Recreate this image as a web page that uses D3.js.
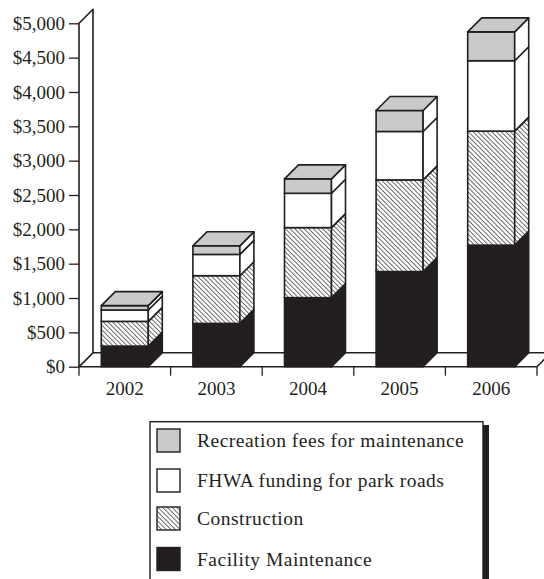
<!DOCTYPE html>
<html><head><meta charset="utf-8">
<script src="https://cdn.jsdelivr.net/npm/d3@7"></script>
<style>body{margin:0;background:#fff} svg{display:block}</style>
</head><body>
<svg id="chart" width="544" height="579"></svg>
<script>
const years = ["2002", "2003", "2004", "2005", "2006"];
const facilityMaintenance = [300, 630, 1005, 1385, 1770];
const construction = [360, 695, 1020, 1335, 1660];
const fhwaFunding = [165, 310, 500, 705, 1025];
const recreationFees = [65, 125, 210, 305, 420];
const yTickValues = [0, 500, 1000, 1500, 2000, 2500, 3000, 3500, 4000, 4500, 5000];
const seriesKeys = ["fm", "con", "fhwa", "rec"];
const legendLabels = ["Recreation fees for maintenance", "FHWA funding for park roads", "Construction", "Facility Maintenance"];
const legendKeys = ["rec", "fhwa", "con", "fm"];

(function () {
const ink = "#231f20", gray = "#c9cacc";
const font = "'Liberation Serif', 'Times New Roman', serif";
const svg = d3.select("#chart");
const pLeft = 79, pRight = 537, pTop = 23.3, pBottom = 366.7, depth = 14, barW = 47, sw = 1.6;

const x = d3.scaleBand().domain(years).range([pLeft, pRight]).padding(0);
const y = d3.scaleLinear().domain([0, 5000]).range([pBottom, pTop]);

const defs = svg.append("defs");
const hs = 3.3;
const pat = defs.append("pattern").attr("id", "hatch").attr("patternUnits", "userSpaceOnUse")
  .attr("width", hs).attr("height", hs).attr("patternTransform", "rotate(-45)");
pat.append("rect").attr("width", hs).attr("height", hs).attr("fill", "#fff");
pat.append("line").attr("x1", 0.5).attr("y1", -1).attr("x2", 0.5).attr("y2", hs + 1)
  .attr("stroke", "#3a3a3a").attr("stroke-width", 0.75);

const frontFill = {fm: ink, con: "url(#hatch)", fhwa: "#fff", rec: gray};
const sideFill = {fm: ink, con: "url(#hatch)", fhwa: "#fff", rec: "#fff"};

const table = years.map((yr, i) => ({year: yr, fm: facilityMaintenance[i], con: construction[i], fhwa: fhwaFunding[i], rec: recreationFees[i]}));
const stacked = d3.stack().keys(seriesKeys)(table);

const line = d3.line();
svg.append("path")
  .attr("d", line([[pLeft, pBottom], [pRight, pBottom], [pRight + depth, pBottom - depth], [pLeft + depth, pBottom - depth]]) + "Z")
  .attr("fill", "#fff").attr("stroke", ink).attr("stroke-width", sw).attr("stroke-linejoin", "round");
svg.append("path")
  .attr("d", line([[pLeft, pBottom], [pLeft, pTop], [pLeft + depth, pTop - depth], [pLeft + depth, pBottom - depth]]) + "Z")
  .attr("fill", "#fff").attr("stroke", ink).attr("stroke-width", sw).attr("stroke-linejoin", "round");

const yAxis = svg.append("g").attr("transform", `translate(${pLeft},0)`)
  .call(d3.axisLeft(y).tickValues(yTickValues).tickFormat(d => "$" + d3.format(",")(d))
    .tickSize(10).tickSizeOuter(0).tickPadding(4));
yAxis.select(".domain").remove();
yAxis.selectAll("line").attr("stroke", ink).attr("stroke-width", 1.3);
yAxis.selectAll("text").attr("fill", ink).style("font-family", font).style("font-size", "19px");

const xAxis = svg.append("g").attr("transform", `translate(0,${pBottom})`)
  .call(d3.axisBottom(x).tickSize(0).tickPadding(15));
xAxis.select(".domain").remove();
xAxis.selectAll("text").attr("fill", ink).style("font-family", font).style("font-size", "19px");
const bounds = years.map(d => x(d)).concat([x(years[years.length - 1]) + x.bandwidth()]);
svg.append("g").selectAll("line").data(bounds).join("line")
  .attr("x1", d => d).attr("x2", d => d).attr("y1", pBottom).attr("y2", pBottom + 9)
  .attr("stroke", ink).attr("stroke-width", 1.3);

const bars = svg.append("g");
years.forEach((yr, i) => {
  const x0 = x(yr) + (x.bandwidth() - barW) / 2, x1 = x0 + barW;
  const g = bars.append("g");
  stacked.forEach((s, k) => {
    const key = s.key;
    const y0 = y(s[i][0]), y1 = y(s[i][1]);
    g.append("rect").attr("x", x0).attr("y", y1).attr("width", barW).attr("height", y0 - y1)
      .attr("fill", frontFill[key]).attr("stroke", ink).attr("stroke-width", sw);
    g.append("path").attr("d", line([[x1, y0], [x1 + depth, y0 - depth], [x1 + depth, y1 - depth], [x1, y1]]) + "Z")
      .attr("fill", sideFill[key]).attr("stroke", ink).attr("stroke-width", sw).attr("stroke-linejoin", "round");
    if (k === stacked.length - 1) {
      g.append("path").attr("d", line([[x0, y1], [x0 + depth, y1 - depth], [x1 + depth, y1 - depth], [x1, y1]]) + "Z")
        .attr("fill", gray).attr("stroke", ink).attr("stroke-width", sw).attr("stroke-linejoin", "round");
    }
  });
});

const lg = svg.append("g");
lg.append("rect").attr("x", 483).attr("y", 425).attr("width", 6).attr("height", 170).attr("fill", ink);
lg.append("rect").attr("x", 150).attr("y", 421.7).attr("width", 333).attr("height", 170)
  .attr("fill", "#fff").attr("stroke", ink).attr("stroke-width", 1.4);
const rowY = [440.5, 480.5, 518.5, 559];
legendKeys.forEach((key, i) => {
  lg.append("rect").attr("x", 157).attr("y", rowY[i] - 11.5).attr("width", 23).attr("height", 23)
    .attr("fill", frontFill[key]).attr("stroke", ink).attr("stroke-width", 1.4);
  lg.append("text").attr("x", 197).attr("y", rowY[i]).attr("dy", "0.35em")
    .attr("fill", ink).style("font-family", font).style("font-size", "19.5px").style("letter-spacing", "0.5px")
    .text(legendLabels[i]);
});
})();
</script>
</body></html>
